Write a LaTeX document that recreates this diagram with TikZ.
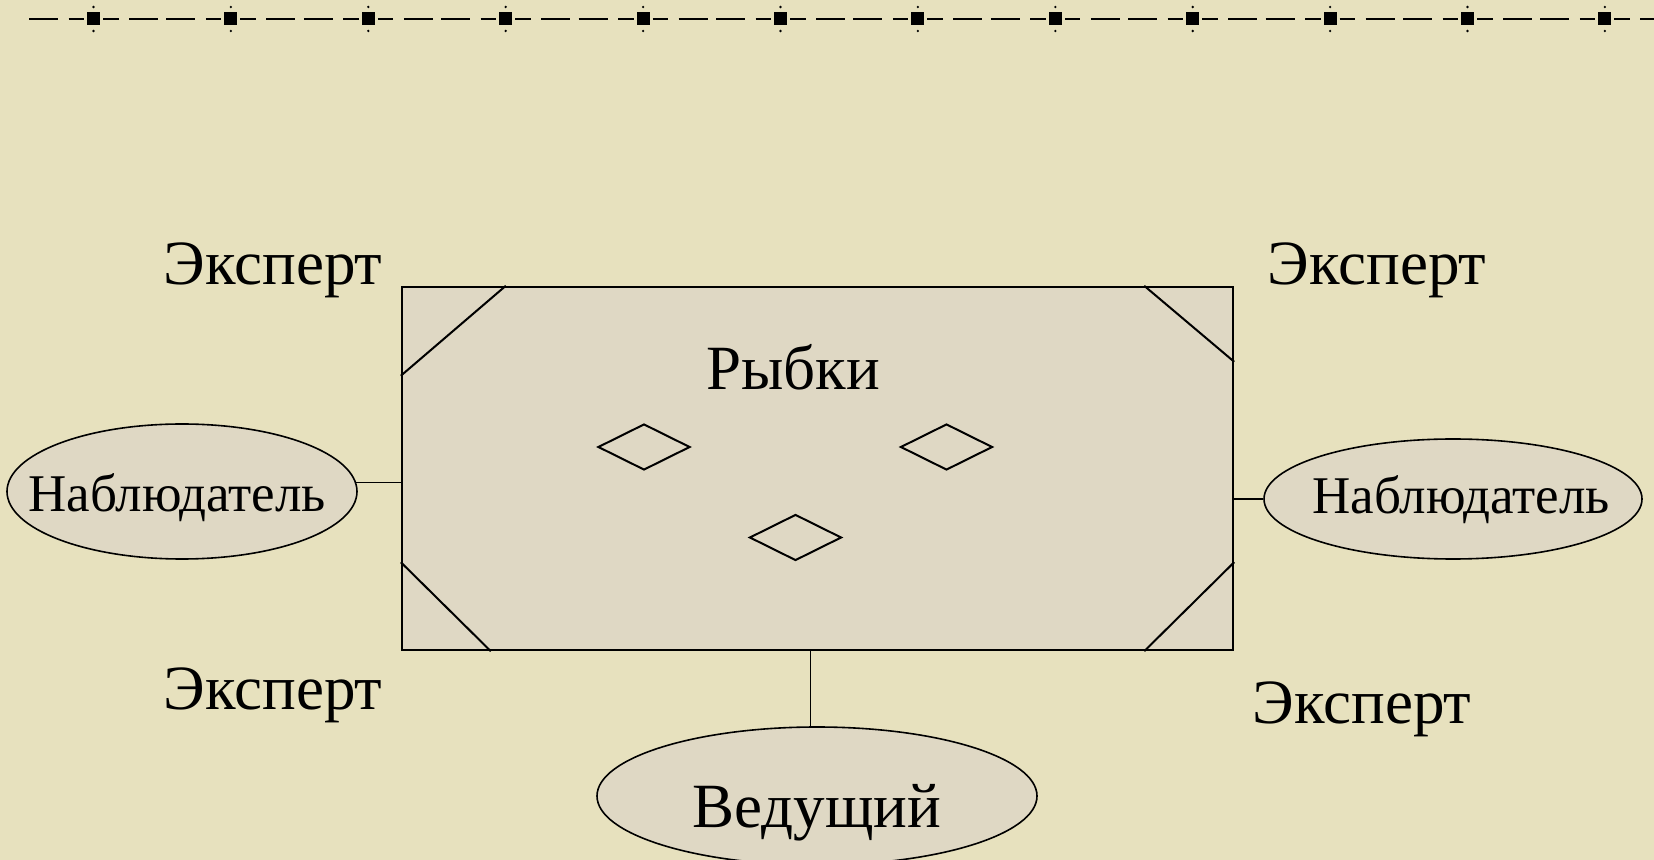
\documentclass[tikz,border=0pt]{standalone}
\usepackage{fontspec}
\setmainfont{Liberation Serif}
\usetikzlibrary{shapes.geometric,calc}
\definecolor{bg}{RGB}{231,225,190}
\definecolor{boxfill}{RGB}{223,216,196}
\begin{document}
\begin{tikzpicture}[x=0.5pt,y=-0.5pt,
  rectbox/.style={draw=black,line width=1.2pt,fill=boxfill,rectangle,inner sep=0pt},
  ellbox/.style={draw=black,line width=0.8pt,fill=boxfill,ellipse,inner sep=0pt},
  conn/.style={draw=black,line width=0.8pt},
  corner/.style={draw=black,line width=1pt},
  fishbox/.style={draw=black,line width=1pt,diamond,inner sep=0pt,minimum width=46pt,minimum height=23pt},
  bigtxt/.style={font=\fontsize{31.5}{31.5}\selectfont,inner sep=0pt},
  smalltxt/.style={font=\fontsize{26.5}{26.5}\selectfont},
  topline/.style={draw=black,line width=1pt}]
\fill[bg] (0,0) rectangle (1654,860);
\useasboundingbox (0,0) rectangle (1654,860);
% top decorative line
\begin{scope}
\clip (0,0) rectangle (1654,860);
\foreach \k in {0,...,11}{
  \pgfmathsetmacro\c{93.5+137.4*\k}
  \draw[topline] (\c-64.5,19) -- (\c-35.5,19);
  \draw[topline] (\c-25,19) -- (\c-9.5,19);
  \draw[topline] (\c+9.5,19) -- (\c+25,19);
  \draw[topline] (\c+35.5,19) -- (\c+64.5,19);
  \fill[black] (\c-6.5,12.5) rectangle (\c+6.5,25.5);
  \fill[black] (\c,7) circle[radius=1.3];
  \fill[black] (\c,31) circle[radius=1.3];
}
\end{scope}
% main board
\node[rectbox,minimum width=415.5pt,minimum height=181.5pt] (rect) at (817.5,468.5) {};
\draw[corner] ($(rect.north west)+(0,90)$) -- ($(rect.north west)+(105,0)$);
\draw[corner] ($(rect.north east)+(-90,0)$) -- ($(rect.north east)+(0,76)$);
\draw[corner] ($(rect.south west)+(0,-89)$) -- ($(rect.south west)+(90,0)$);
\draw[corner] ($(rect.south east)+(-90,0)$) -- ($(rect.south east)+(0,-89)$);
\node[bigtxt,anchor=base] (title) at (793,390) {Рыбки};
\node[fishbox] (f1) at (644,447) {};
\node[fishbox] (f2) at (946.5,447) {};
\node[fishbox] (f3) at (795.5,537.5) {};
% ellipses
\node[ellbox,smalltxt,minimum width=175pt,minimum height=67.5pt,text height=20.5pt,text depth=0pt] (obsL) at (182,491.5) {\makebox[0pt]{Наблюдатель\hspace*{5pt}}};
\node[ellbox,smalltxt,minimum width=189pt,minimum height=60pt,text height=15pt,text depth=0pt] (obsR) at (1453,499) {\makebox[0pt]{\hspace*{8pt}Наблюдатель}};
\node[ellbox,font=\fontsize{31.5}{31.5}\selectfont,minimum width=220pt,minimum height=69pt,text height=31pt,text depth=0pt] (host) at (817,796) {\makebox[0pt]{Ведущий}};
% connectors
\draw[conn] (obsL.3) -- (obsL.3 -| rect.west);
\draw[conn] (rect.east |- obsR.west) -- (obsR.west);
\coordinate (b1) at ($(rect.south)+(-7,0)$);
\draw[conn] (b1) -- (b1 |- host.north);
% experts
\node[bigtxt,anchor=base] (e1) at (273,285) {Эксперт};
\node[bigtxt,anchor=base] (e2) at (1377,285) {Эксперт};
\node[bigtxt,anchor=base] (e3) at (273,709) {Эксперт};
\node[bigtxt,anchor=base] (e4) at (1362,723) {Эксперт};
\end{tikzpicture}
\end{document}
